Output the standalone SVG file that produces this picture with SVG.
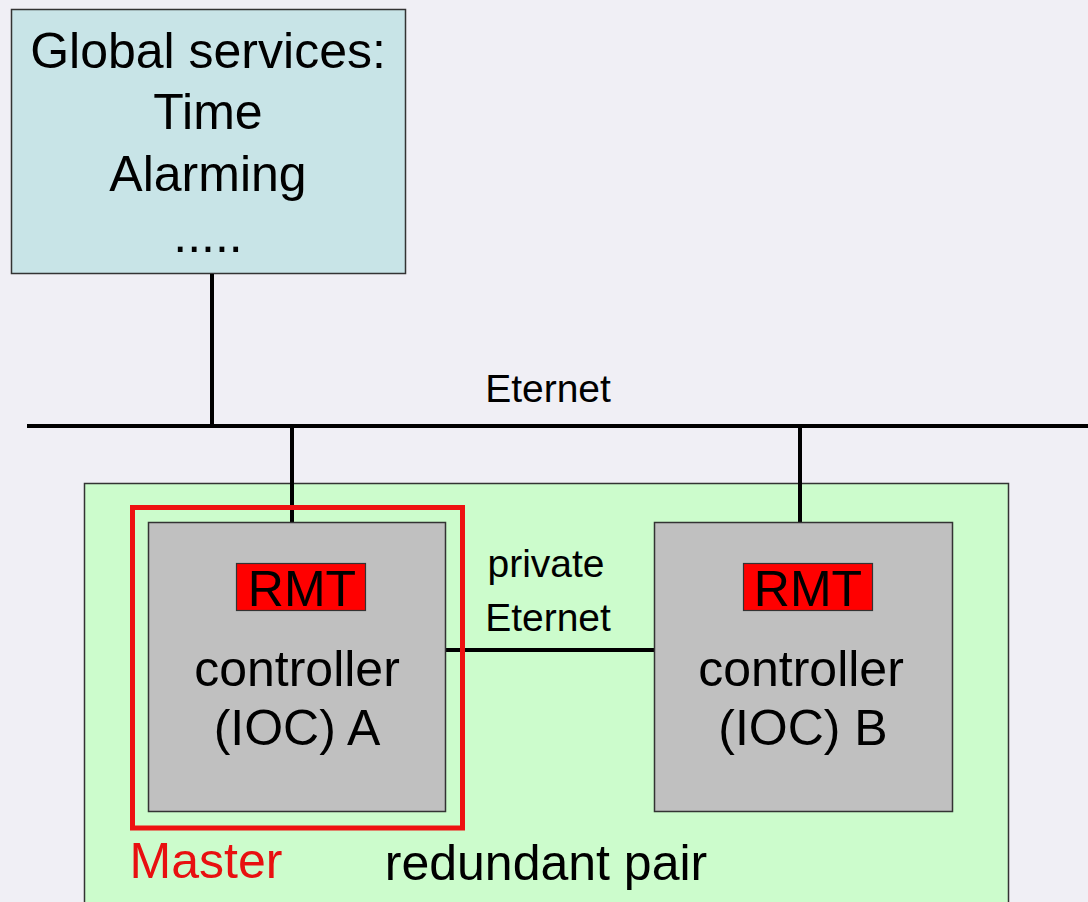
<svg xmlns="http://www.w3.org/2000/svg" width="1088" height="902" viewBox="0 0 1088 902">
  <style>
    text { font-family: "Liberation Sans", Arial, sans-serif; fill: #000; text-anchor: middle; }
    .big { font-size: 50px; }
    .net { font-size: 39px; }
    .box { stroke: #333; stroke-width: 1.5; }
    .wire { stroke: #000; stroke-width: 4; fill: none; }
    .rmt { fill: #ff0000; stroke: #333; stroke-width: 1.2; }
  </style>

  <rect x="0" y="0" width="1088" height="902" fill="#f0eff5"/>

  <!-- redundant pair container -->
  <g id="redundant-pair">
    <rect class="box" x="84.5" y="483.5" width="924" height="430" fill="#ccfccc"/>
    <text class="big" x="546" y="880">redundant pair</text>
  </g>

  <!-- global services -->
  <g id="global-services">
    <rect class="box" x="11.5" y="9.5" width="394" height="264" fill="#c8e4e7"/>
    <text class="big" x="208" y="68">Global services:</text>
    <text class="big" x="208" y="129">Time</text>
    <text class="big" x="208" y="191">Alarming</text>
    <text class="big" x="208" y="252">.....</text>
  </g>

  <!-- network wiring -->
  <g id="connectors">
    <line class="wire" x1="27" y1="426" x2="1088" y2="426" stroke-width="5"/>
    <line class="wire" x1="212" y1="274" x2="212" y2="426"/>
    <line class="wire" x1="292" y1="426" x2="292" y2="522"/>
    <line class="wire" x1="800" y1="426" x2="800" y2="522"/>
    <line class="wire" x1="446" y1="650" x2="654" y2="650"/>
    <text class="net" x="548" y="402">Eternet</text>
    <text class="net" x="546" y="577">private</text>
    <text class="net" x="548" y="631">Eternet</text>
  </g>

  <!-- controller A -->
  <g id="controller-a">
    <rect class="box" x="148.5" y="522.5" width="297" height="289" fill="#c0c0c0"/>
    <rect class="rmt" x="236.5" y="563.5" width="129" height="47"/>
    <text class="big" x="302" y="606">RMT</text>
    <text class="big" x="297" y="686">controller</text>
    <text class="big" x="297" y="745">(IOC) A</text>
  </g>

  <!-- controller B -->
  <g id="controller-b">
    <rect class="box" x="654.5" y="522.5" width="298" height="289" fill="#c0c0c0"/>
    <rect class="rmt" x="743.5" y="563.5" width="129" height="47"/>
    <text class="big" x="808" y="606">RMT</text>
    <text class="big" x="801" y="686">controller</text>
    <text class="big" x="803" y="745">(IOC) B</text>
  </g>

  <!-- master frame around controller A -->
  <g id="master">
    <rect x="132.5" y="507.5" width="330" height="320.5" fill="none" stroke="#ee1111" stroke-width="5"/>
    <text class="big" x="206" y="878" style="fill:#e81010">Master</text>
  </g>
</svg>
